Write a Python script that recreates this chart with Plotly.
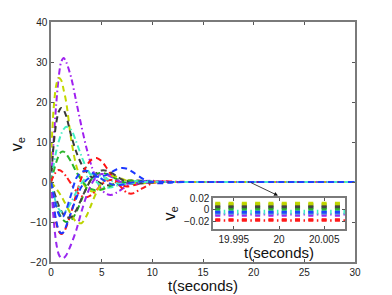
import plotly.graph_objects as go

# ---------------- data ----------------
t_main = [0, 0.25, 0.5, 0.75, 1, 1.25, 1.5, 2, 2.5, 3, 3.5, 4, 4.5, 5, 5.5, 6, 6.5,
          7, 7.5, 8, 9, 10, 11, 12, 14, 16, 20, 25, 30]

v_A = [0, 10, 19, 26, 30, 31, 30, 26, 20, 14, 8.5, 4, 0.5, -2, -3, -3.2, -2.6, -1.8, -1, -0.4, 0.2, 0.3, 0.1, 0, 0, 0, 0, 0, 0]
v_B = [6, 18, 24, 26, 25.5, 23, 20, 10.5, 4, 0.5, -1.5, -2.3, -2.3, -1.8, -1.2, -0.6, -0.2, 0.1, 0.4, 0.4, 0.2, 0, -0.1, 0, 0, 0, 0, 0, 0]
v_C = [0, 9, 14.5, 17.5, 18.5, 18, 16.5, 11.5, 7.5, 4.5, 2.5, 1.2, 0.3, -0.4, -0.8, -0.9, -0.6, -0.2, 0.2, 0.4, 0.3, 0.1, 0, 0, 0, 0, 0, 0, 0]
v_D = [0, 4, 7.5, 10, 12, 13.2, 13.8, 13, 10, 6.5, 3.5, 1.5, 0, -1, -1.4, -1.3, -0.9, -0.4, 0, 0.2, 0.2, 0.1, 0, 0, 0, 0, 0, 0, 0]
v_E = [0, -3, -5.5, -7.5, -8.8, -9.6, -10, -9.5, -7.5, -4.5, -1.5, 0.8, 2, 2.3, 2, 1.4, 0.7, 0.1, -0.3, -0.4, -0.2, 0, 0, 0, 0, 0, 0, 0, 0]
v_E2 = [0, 2.5, 4.8, 6.5, 7.5, 7.6, 7, 5, 2.5, 0.5, -1, -1.8, -2.1, -1.9, -1.4, -0.8, -0.3, 0.1, 0.3, 0.3, 0.1, 0, 0, 0, 0, 0, 0, 0, 0]
v_F = [0, -6, -10, -12.3, -13, -12.6, -11.3, -7.5, -3, 1, 4, 5.6, 6, 5.2, 3.5, 1.6, 0.1, -0.8, -1.1, -0.9, -0.3, 0.1, 0.1, 0, 0, 0, 0, 0, 0]
v_G = [0, 1.5, 2.5, 3, 2.8, 2.2, 1.4, -0.5, -2.3, -3.5, -3.8, -3.2, -2, -0.6, 0.3, 0.5, -0.2, -1.5, -2.7, -2.9, -1.6, -0.3, 0.2, 0.1, 0, 0, 0, 0, 0]
v_H = [0, -5.5, -9.5, -12, -12.8, -12.5, -11, -7.5, -4, -1.2, 0.5, 1.2, 1.3, 1.4, 1.8, 2.5, 3.2, 3.5, 3.3, 2.6, 0.9, -0.2, -0.3, -0.1, 0, 0, 0, 0, 0]
v_I = [0, -9, -15, -18, -19, -19, -18.3, -15.5, -12, -7.5, -3.5, -0.5, 1.3, 2, 1.8, 1.2, 0.5, -0.1, -0.4, -0.5, -0.3, 0, 0.1, 0, 0, 0, 0, 0, 0]
v_J = [0, -0.8, -1.6, -2.5, -3.5, -4.6, -5.8, -8.2, -10, -10.3, -8.5, -5.5, -2.5, -0.3, 1, 1.5, 1.3, 0.8, 0.3, -0.1, -0.3, -0.1, 0, 0, 0, 0, 0, 0, 0]
v_K = [0, -2, -4, -5.8, -7.2, -8.2, -8.8, -8.8, -7, -4.2, -1.5, 0.8, 2.3, 2.9, 2.8, 2.2, 1.4, 0.6, 0, -0.3, -0.3, -0.1, 0, 0, 0, 0, 0, 0, 0]
v_L = [0, -3, -5.2, -6.7, -7.4, -7.5, -7.1, -5, -2.5, -0.3, 1.2, 1.9, 1.9, 1.4, 0.8, 0.2, -0.3, -0.5, -0.5, -0.3, 0, 0.1, 0, 0, 0, 0, 0, 0, 0]
v_M = [0, -3, -6, -8, -9, -8.5, -7, -3, 1, 2.5, 2.8, 2.4, 1.6, 0.8, 0, -0.6, -0.8, -0.7, -0.4, -0.1, 0.1, 0, 0, 0, 0, 0, 0, 0, 0]

series_names = ["A", "B", "C", "D", "E", "E2", "F", "G", "H", "I", "J", "K", "L", "M"]
series_values = [v_A, v_B, v_C, v_D, v_E, v_E2, v_F, v_G, v_H, v_I, v_J, v_K, v_L, v_M]

# steady-state values seen in the zoomed inset (t around 20 s)
t_inset = [19.99, 20.01]
inset_levels = [-0.008, 0.012, 0.007, -0.002, 0.003, 0.001, -0.017, -0.019,
                -0.004, -0.010, 0.010, 0.005, -0.006, -0.005]

x_ticks = [0, 5, 10, 15, 20, 25, 30]
y_ticks = [-20, -10, 0, 10, 20, 30, 40]
inset_x_ticks = [19.995, 20, 20.005]
inset_x_labels = ["19.995", "20", "20.005"]
inset_y_ticks = [-0.02, 0, 0.02]
inset_y_labels = ["\u22120.02", "0", "0.02"]

# ---------------- styles ----------------
colors = {"A": "#a020f0", "B": "#c4d800", "C": "#383838", "D": "#40f0c0",
          "E": "#1fa81f", "E2": "#2bb52b", "F": "#ff1010", "G": "#ff1a1a",
          "H": "#1a36ff", "I": "#9a28f0", "J": "#bcd400", "K": "#444444",
          "L": "#48e8c8", "M": "#2040ff"}
dashdot_set = {"A", "D", "G", "L"}
DASH = "6px,4px"
DASHDOT = "6px,3px,1.5px,3px"
IN_DASH = "5px,8.3px"
IN_DASHDOT = "5px,3.5px,1.5px,3.3px"

fig = go.Figure()
for name, vals in zip(series_names, series_values):
    fig.add_trace(go.Scatter(
        x=t_main, y=vals, mode="lines", xaxis="x", yaxis="y",
        line=dict(color=colors[name], width=2, shape="spline", smoothing=0.8,
                  dash=DASHDOT if name in dashdot_set else DASH),
        showlegend=False, hoverinfo="skip"))

for name, lvl in zip(series_names, inset_levels):
    fig.add_trace(go.Scatter(
        x=t_inset, y=[lvl, lvl], mode="lines", xaxis="x2", yaxis="y2",
        line=dict(color=colors[name], width=2.5,
                  dash=IN_DASHDOT if name in dashdot_set else IN_DASH),
        showlegend=False, hoverinfo="skip"))

FONT = "Liberation Sans, Arial, sans-serif"
axis_common = dict(showgrid=False, zeroline=False, showline=True, linecolor="#7a7a7a",
                   linewidth=1.5, mirror="ticks", ticks="inside", ticklen=3,
                   tickcolor="#555", tickfont=dict(family=FONT, size=10, color="#222"))

fig.update_layout(
    width=392, height=295,
    margin=dict(l=51, r=37, t=22, b=33),
    paper_bgcolor="white", plot_bgcolor="white",
    xaxis=dict(range=[0, 30], tickvals=x_ticks, domain=[0, 1], **axis_common),
    yaxis=dict(range=[-20, 40], tickvals=y_ticks, domain=[0, 1], **axis_common),
    xaxis2=dict(range=[19.9927, 20.0073], tickvals=inset_x_ticks, ticktext=inset_x_labels,
                domain=[0.533, 0.967], anchor="y2", **axis_common),
    yaxis2=dict(range=[-0.034, 0.021], tickvals=inset_y_ticks, ticktext=inset_y_labels,
                domain=[0.1375, 0.267], anchor="x2", **axis_common),
    annotations=[
        dict(text="t(seconds)", xref="paper", yref="paper", x=0.5, y=-0.097,
             xanchor="center", yanchor="middle", showarrow=False,
             font=dict(family=FONT, size=15, color="#111")),
        dict(text="v<sub>e</sub>", xref="paper", yref="paper", x=-0.112, y=0.49,
             xanchor="center", yanchor="middle", showarrow=False, textangle=-90,
             font=dict(family=FONT, size=16, color="#111")),
        dict(text="t(seconds)", xref="paper", yref="paper", x=0.75, y=0.04,
             xanchor="center", yanchor="middle", showarrow=False,
             font=dict(family=FONT, size=15, color="#111")),
        dict(text="v<sub>e</sub>", xref="paper", yref="paper", x=0.39, y=0.2,
             xanchor="center", yanchor="middle", showarrow=False, textangle=-90,
             font=dict(family=FONT, size=16, color="#111")),
        dict(text="", xref="x", yref="y", x=22.4, y=-3.4, axref="x", ayref="y",
             ax=19.6, ay=0, showarrow=True, arrowhead=2, arrowsize=1,
             arrowwidth=0.8, arrowcolor="#111"),
    ],
)
fig.update_xaxes(layer="above traces")
fig.update_yaxes(layer="above traces")

fig.write_html("out.html", config={"displayModeBar": False},
               post_script="document.body.style.margin='0';document.body.style.padding='0';")
